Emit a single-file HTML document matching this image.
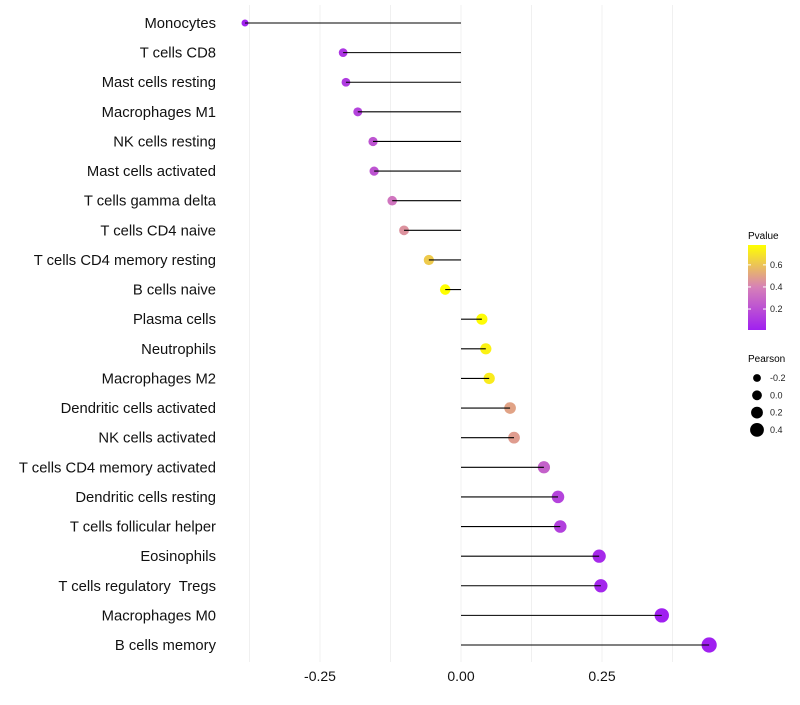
<!DOCTYPE html>
<html><head><meta charset="utf-8"><style>
body{margin:0;background:#fff;}
svg text{font-family:"Liberation Sans",sans-serif;white-space:pre;}
</style></head><body>
<svg id="c" width="800" height="700" xmlns="http://www.w3.org/2000/svg">
<defs><linearGradient id="pg" x1="0" y1="1" x2="0" y2="0">
<stop offset="0" stop-color="#a020f0"/><stop offset="0.5" stop-color="#d680b8"/><stop offset="1" stop-color="#ffff00"/>
</linearGradient></defs>
<g id="grid"></g><g id="pts"></g><g id="marks"></g><g id="ylab"></g><g id="xlab"></g>
<g>
<text x="748" y="239" font-size="10">Pvalue</text>
<rect x="748" y="245" width="18" height="85" fill="url(#pg)"/>
<g id="pticks"></g>
</g>
<g>
<text x="748" y="362" font-size="10">Pearson</text>
<g id="sleg"></g>
</g>
</svg>
<script>
const categories=["Monocytes","T cells CD8","Mast cells resting","Macrophages M1","NK cells resting","Mast cells activated","T cells gamma delta","T cells CD4 naive","T cells CD4 memory resting","B cells naive","Plasma cells","Neutrophils","Macrophages M2","Dendritic cells activated","NK cells activated","T cells CD4 memory activated","Dendritic cells resting","T cells follicular helper","Eosinophils","T cells regulatory  Tregs","Macrophages M0","B cells memory"];
const pearson=[-0.383,-0.209,-0.204,-0.183,-0.156,-0.154,-0.122,-0.101,-0.057,-0.028,0.037,0.044,0.050,0.087,0.094,0.147,0.172,0.176,0.245,0.248,0.356,0.440];
const pvalue=[0.02,0.10,0.12,0.15,0.22,0.22,0.35,0.45,0.62,0.78,0.77,0.74,0.72,0.50,0.48,0.27,0.15,0.14,0.05,0.04,0.01,0.01];
const xTicks=[-0.25,0,0.25];
const xTickLabels=["-0.25","0.00","0.25"];
const xMinor=[-0.375,-0.125,0.125,0.375];
const pTicks=[0.2,0.4,0.6];
const sizeLegend=[-0.2,0,0.2,0.4];
const NS="http://www.w3.org/2000/svg";
const X=v=>461+v*564;
const Y=i=>23+i*(622/21);
const R=v=>Math.max(2,5.4+5*v);
const pMin=0.01,pMax=0.78;
function lerp(a,b,t){return Math.round(a+(b-a)*t);}
function col(p){let t=(p-pMin)/(pMax-pMin);t=Math.max(0,Math.min(1,t));
 const s=[[160,32,240],[214,128,184],[255,255,0]];
 let a,b,u;if(t<0.5){a=s[0];b=s[1];u=t/0.5}else{a=s[1];b=s[2];u=(t-0.5)/0.5}
 return `rgb(${lerp(a[0],b[0],u)},${lerp(a[1],b[1],u)},${lerp(a[2],b[2],u)})`;}
function mk(tag,at,parent){const e=document.createElementNS(NS,tag);for(const k in at)e.setAttribute(k,at[k]);document.getElementById(parent).appendChild(e);return e;}
xMinor.concat(xTicks).forEach(v=>{const l=mk('line',{x1:X(v),x2:X(v),y1:5,y2:662,stroke:'#f0f0f0','stroke-width':1},'grid');

});
xTicks.forEach((v,i)=>{const t=mk('text',{x:X(v),y:681,'font-size':14,'text-anchor':'middle',fill:'#111'},'xlab');t.textContent=xTickLabels[i];

});
categories.forEach((c,i)=>{const y=Y(i);
 const t=mk('text',{x:216,y:y+5,'font-size':14.8,'text-anchor':'end',fill:'#111'},'ylab');t.textContent=c;
 
 
 const l=mk('line',{x1:X(0),x2:X(pearson[i]),y1:y,y2:y,stroke:'#000','stroke-width':1.1},'marks');
 
 
 const d=mk('circle',{cx:X(pearson[i]),cy:y,r:R(pearson[i]),fill:col(pvalue[i])},'pts');
 
 
});
pTicks.forEach(p=>{const y=330-(p-0.01)/(0.78-0.01)*85;
 mk('line',{x1:748,x2:751,y1:y,y2:y,stroke:'#fff'},'pticks');mk('line',{x1:763,x2:766,y1:y,y2:y,stroke:'#fff'},'pticks');
 const t=mk('text',{x:770,y:y+3,'font-size':9,fill:'#222'},'pticks');t.textContent=p.toFixed(1);
 
 });
sizeLegend.forEach((v,i)=>{const y=378+i*17.3;
 const d=mk('circle',{cx:757,cy:y,r:R(v)-0.5,fill:'#000'},'sleg');
 
 
 const t=mk('text',{x:770,y:y+3,'font-size':9,fill:'#222'},'sleg');t.textContent=v.toFixed(1);
 
 });
</script>
</body></html>
